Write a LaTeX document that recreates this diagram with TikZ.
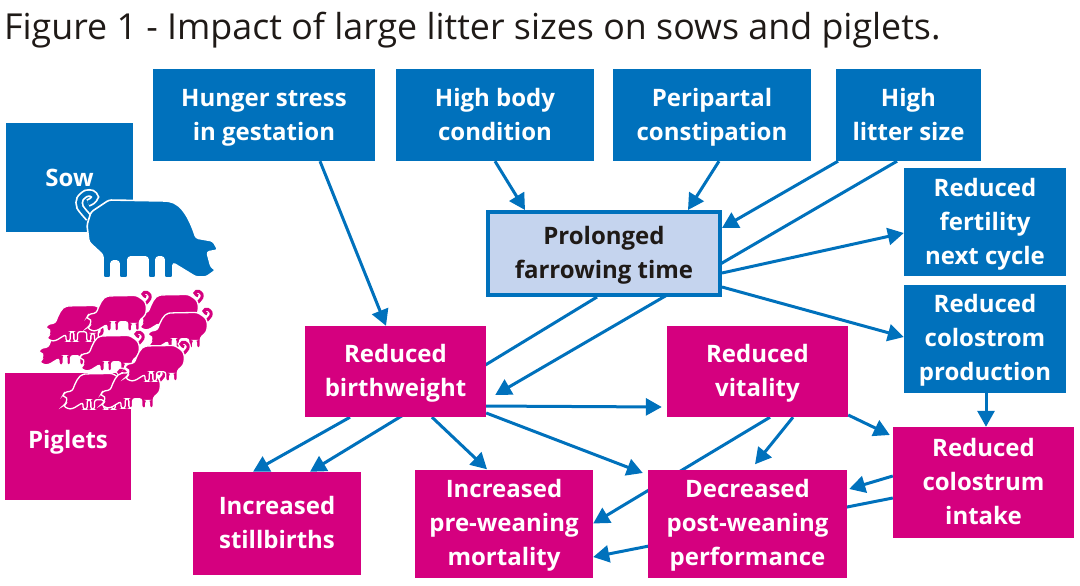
\documentclass[tikz,border=0pt]{standalone}
\usepackage{fontspec}
\setmainfont{Open Sans}
\usetikzlibrary{arrows.meta,backgrounds}
\definecolor{sowblue}{HTML}{0071BC}
\definecolor{pigmagenta}{HTML}{D5007F}
\definecolor{farrowfill}{HTML}{C5D4EE}
\definecolor{inkblack}{HTML}{1F1A17}
% keep each text block at the same height whatever its letters
\newcommand{\boxtop}{\rule{0pt}{28pt}}
\newcommand{\boxbot}{\rule[-12pt]{0pt}{12pt}}

\begin{document}
\begin{tikzpicture}[
  x=1pt, y=-1pt,
  font=\fontsize{24}{34}\bfseries\selectfont,
  sowbox/.style={fill=sowblue, text=white, align=center, inner sep=0pt, minimum height=92pt},
  pigbox/.style={fill=pigmagenta, text=white, align=center, inner sep=0pt, minimum height=103pt},
  farrowbox/.style={draw=sowblue, line width=4pt, fill=farrowfill, text=inkblack, align=center,
                    inner sep=0pt, minimum width=232pt, minimum height=83pt},
  arr/.style={-{Triangle[length=16pt,width=17pt]}, line width=3pt, draw=sowblue},
  pics/pigshape/.style n args={4}{code={
    % tail first, so that the body closes over its root
    \draw[white, line width=#3] plot[smooth] coordinates
      {(-58,-18) (-67,-29) (-67,-37) (-61,-42.5) (-55,-42.5) (-52,-39) (-55,-35) (-59,-33)};
    \draw[#1, line width=#2] plot[smooth] coordinates
      {(-58,-18) (-67,-29) (-67,-37) (-61,-42.5) (-55,-42.5) (-52,-39) (-55,-35) (-59,-33)};
    \draw[white, line width=#4, fill=#1, rounded corners=2.5pt]
      (-56,-24) -- (-38,-36) -- (19,-35) .. controls (36,-33) and (44,-13) .. (49,2)
      -- (66,5) -- (71,14) -- (60,16) -- (64,31) -- (69,34) -- (59,41) -- (49,41) -- (26,27)
      -- (26,42) -- (17,42) -- (17,21) -- (9,21) -- (9,42) -- (1,42) -- (1,21)
      -- (-19,21) -- (-19,42) -- (-28,42) -- (-28,25) -- (-36,25) -- (-36,42) -- (-44,42)
      -- (-44,19) -- (-58,6) -- (-60,-11) -- cycle;
  }}
]
\useasboundingbox (0,0) rectangle (1080,586);

\node[anchor=base west, font=\fontsize{35.8}{40}\selectfont, text=inkblack, inner sep=0pt] (title) at (4,40)
  {Figure 1 - Impact of large litter sizes on sows and piglets.};

% causes along the top
\node[sowbox, minimum width=222pt] (hunger) at (264,115) {\boxtop Hunger stress\\in gestation\boxbot};
\node[sowbox, minimum width=198pt] (body) at (495,115) {\boxtop High body\\condition\boxbot};
\node[sowbox, minimum width=198pt] (perip) at (712,115) {\boxtop Peripartal\\constipation\boxbot};
\node[sowbox, minimum width=145pt] (litter) at (908.5,115) {\boxtop High\\litter size\boxbot};
\node[sowbox, minimum width=127pt, minimum height=109pt] (sow) at (69.5,177.5) {\boxtop\raisebox{-0.5pt}{Sow}\boxbot};
\node[sowbox, minimum width=162pt, minimum height=106pt] (fertility) at (985,222) {\boxtop Reduced\\fertility\\next cycle\boxbot};
\node[sowbox, minimum width=162pt, minimum height=105pt] (colostrom) at (985,338.5) {\boxtop Reduced\\colostrom\\production\boxbot};
\node[farrowbox] (farrow) at (604,253.5) {\boxtop Prolonged\\farrowing time\boxbot};

% outcomes
\node[pigbox, minimum width=181pt, minimum height=91pt] (birth) at (395.5,371.5) {\boxtop Reduced\\birthweight\boxbot};
\node[pigbox, minimum width=181pt, minimum height=91pt] (vitality) at (757.5,371.5) {\boxtop Reduced\\vitality\boxbot};
\node[pigbox, minimum width=126pt, minimum height=127pt] (piglets) at (68,436.5) {\boxtop\raisebox{-3.5pt}{Piglets}\boxbot};
\node[pigbox, minimum width=168pt] (still) at (277,523.5) {\boxtop Increased\\stillbirths\boxbot};
\node[pigbox, minimum width=178pt] (prewean) at (504,523.5) {\boxtop Increased\\pre-weaning\\mortality\boxbot};
\node[pigbox, minimum width=199pt] (decreased) at (747.5,523.5) {\boxtop Decreased\\post-weaning\\performance\boxbot};
\node[pigbox, minimum width=181pt, minimum height=111pt] (intake) at (983.5,482.5) {\boxtop Reduced\\colostrum\\intake\boxbot};

% several lines run on behind a box, so all of them sit on the background layer
\begin{scope}[on background layer]
\draw[arr] ([xshift=56pt]hunger.south) -- ([xshift=-9.5pt]birth.north);
\draw[arr] (body.south) -- ([xshift=-79pt]farrow.north);
\draw[arr] ([xshift=7pt]perip.south) -- ([xshift=84pt]farrow.north);
\draw[arr] ([xshift=-70.5pt]litter.south) -- ([yshift=25.5pt]farrow.east);
\draw[arr] ([xshift=-11.5pt]litter.south) -- ([shift={(9pt,-23.5pt)}]birth.east);
\draw[arr] ([yshift=-19.5pt]farrow.east) -- ([yshift=-11pt]fertility.west);
\draw[arr] ([yshift=-33.5pt]farrow.east) -- ([yshift=1.5pt]colostrom.west);
\draw[arr] ([xshift=-7pt]farrow.south) -- ([xshift=33pt]still.north);
\draw[arr] ([xshift=1pt]colostrom.south) -- ([xshift=2.5pt]intake.north);
\draw[arr] ([xshift=-45.5pt]birth.south) -- ([xshift=-24pt]still.north);
\draw[arr] ([xshift=36.5pt]birth.south) -- ([xshift=-17pt]prewean.north);
\draw[arr] ([yshift=-41.5pt]birth.east) -- ([shift={(-5pt,50.5pt)}]decreased.west);
\draw[arr] ([shift={(-4pt,-34.5pt)}]birth.east) -- ([shift={(-5pt,-35.5pt)}]vitality.west);
\draw[arr] ([xshift=12.5pt]vitality.south) -- (prewean.east);
\draw[arr] ([xshift=35.5pt]vitality.south) -- ([shift={(7.5pt,5pt)}]decreased.north);
\draw[arr] ([yshift=-43.5pt]vitality.east) -- ([shift={(-3pt,47.5pt)}]intake.west);
\draw[arr] ([yshift=6.5pt]intake.west) -- ([shift={(2pt,34.5pt)}]decreased.east);
\draw[arr] ([yshift=-15.5pt]intake.west) -- ([yshift=-33.5pt]prewean.east);
\end{scope}

% the sow and her litter
\pic at (147,236) {pigshape={sowblue}{4.5pt}{8pt}{1.6pt}};
\foreach \px/\py in {71/346, 78/322, 171/311, 180/329, 119/312, 112/352, 95/390, 133/389, 157/362}
  \pic[xscale=-0.46, yscale=0.46] at (\px,\py) {pigshape={pigmagenta}{3pt}{5.5pt}{1.3pt}};
\end{tikzpicture}
\end{document}
